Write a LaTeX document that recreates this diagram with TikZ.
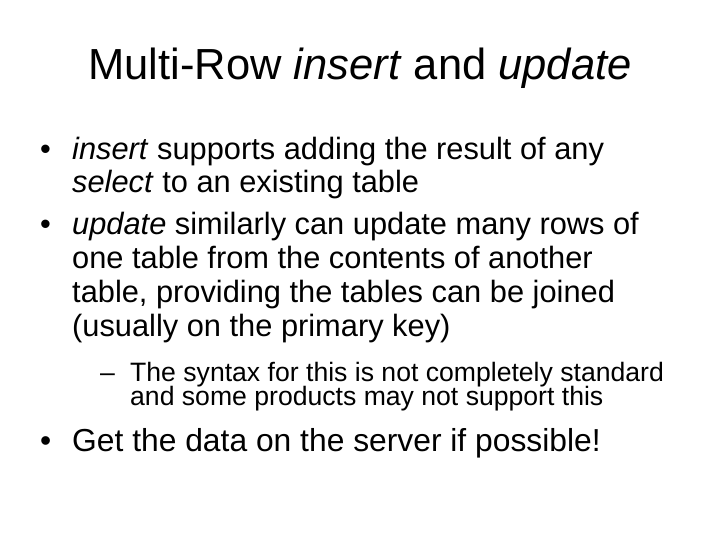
\documentclass[tikz,border=0pt]{standalone}
\usepackage{fontspec}
\setmainfont{Liberation Sans}
\usetikzlibrary{positioning}
\tikzset{
  txt/.style={anchor=base west, inner sep=0pt, font=\fontsize{30.8}{36}\selectfont},
  subtxt/.style={anchor=base west, inner sep=0pt, font=\fontsize{26.6}{31}\selectfont},
  bigtxt/.style={anchor=base west, inner sep=0pt, font=\fontsize{31.8}{38}\selectfont}
}
\begin{document}
\begin{tikzpicture}[x=1pt,y=-1pt]
\useasboundingbox (0,0) rectangle (720,540);

\node[inner sep=0pt, font=\fontsize{43.5}{52}\selectfont] (title) at (360,68) {Multi-Row \textit{insert} and \textit{update}};

% first bullet
\node[txt] (b1) at (40,160) {\textbullet};
\node[txt] (l1) at (72,160) {\textit{insert} supports adding the result of any};
\node[txt] (l2) at (72,193) {\textit{select} to an existing table};

% second bullet
\node[txt] (b2) at (40,235) {\textbullet};
\node[txt] (l3) at (72,235) {\textit{update} similarly can update many rows of};
\node[txt] (l4) at (72,268) {one table from the contents of another};
\node[txt] (l5) at (72,302) {table, providing the tables can be joined};
\node[txt] (l6) at (72,336) {(usually on the primary key)};

% sub bullet
\node[subtxt] (d1) at (100,381) {--};
\node[subtxt] (l7) at (130,381) {The syntax for this is not completely standard};
\node[subtxt] (l8) at (130,405) {and some products may not support this};

% last bullet
\node[bigtxt] (b3) at (40,451) {\textbullet};
\node[bigtxt] (l9) at (72,451) {Get the data on the server if possible!};
\end{tikzpicture}
\end{document}
